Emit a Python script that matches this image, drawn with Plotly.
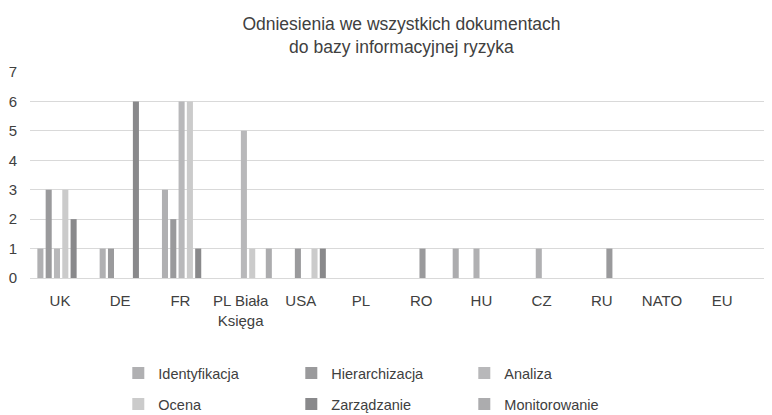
import plotly.graph_objects as go

categories = ["UK", "DE", "FR", "PL Biała<br>Księga", "USA", "PL", "RO", "HU", "CZ", "RU", "NATO", "EU"]
identyfikacja = [1, 1, 3, 0, 0, 0, 0, 1, 1, 0, 0, 0]
hierarchizacja = [3, 1, 2, 0, 1, 0, 1, 0, 0, 1, 0, 0]
analiza = [1, 0, 6, 5, 0, 0, 0, 0, 0, 0, 0, 0]
ocena = [3, 0, 6, 1, 1, 0, 0, 0, 0, 0, 0, 0]
zarzadzanie = [2, 6, 1, 0, 1, 0, 0, 0, 0, 0, 0, 0]
monitorowanie = [0, 0, 0, 1, 0, 0, 1, 0, 0, 0, 0, 0]
y_ticks = [0, 1, 2, 3, 4, 5, 6, 7]

series = [
    ("Identyfikacja", identyfikacja, "#b0b0b2", "legend"),
    ("Hierarchizacja", hierarchizacja, "#9a9a9c", "legend"),
    ("Analiza", analiza, "#b8b8ba", "legend"),
    ("Ocena", ocena, "#cbcbcb", "legend2"),
    ("Zarządzanie", zarzadzanie, "#89898b", "legend2"),
    ("Monitorowanie", monitorowanie, "#acacae", "legend2"),
]

idx = list(range(len(categories)))
fig = go.Figure()
for name, vals, color, leg in series:
    fig.add_trace(go.Bar(x=idx, y=vals, name=name, marker=dict(color=color, line=dict(width=0)),
                         legend=leg))

# invisible trace to carry the category label axis
fig.add_trace(go.Scatter(x=idx, y=[0] * len(idx), xaxis="x2", mode="markers",
                         marker=dict(opacity=0), showlegend=False, hoverinfo="skip"))

font = "Liberation Sans, Arial, sans-serif"
txt = "#404040"
fig.update_layout(
    width=764, height=407,
    margin=dict(l=22, r=0, t=64, b=137, autoexpand=False),
    paper_bgcolor="white", plot_bgcolor="white",
    font=dict(family=font, color=txt, size=15),
    barmode="group", bargap=0.2, bargroupgap=0.27,
    title=dict(text="Odniesienia we wszystkich dokumentach<br>do bazy informacyjnej ryzyka",
               x=0.515, xref="container", xanchor="center", y=0.946, yref="container", yanchor="middle",
               font=dict(size=17.5, color=txt, family=font)),
    xaxis=dict(range=[-0.5, 11.41], showticklabels=False, showgrid=False, zeroline=False,
               showline=False, fixedrange=True),
    xaxis2=dict(overlaying="x", anchor="y", side="bottom", range=[-0.498, 11.827],
                tickmode="array", tickvals=idx, ticktext=categories,
                showgrid=False, zeroline=False, showline=False, ticks="",
                ticklabelstandoff=12, tickfont=dict(size=15, color=txt)),
    yaxis=dict(range=[0, 7], tickmode="array", tickvals=y_ticks, showgrid=True,
               gridcolor="#d9d9d9", gridwidth=1, zeroline=True, zerolinecolor="#d9d9d9",
               zerolinewidth=1, showline=False, ticks="", ticklabelstandoff=12,
               tickfont=dict(size=15, color=txt)),
    legend=dict(orientation="h", x=0.119, xanchor="left", y=-0.461, yanchor="middle",
                entrywidth=128, entrywidthmode="pixels", font=dict(size=14.5, color=txt),
                itemclick=False, itemdoubleclick=False),
    legend2=dict(orientation="h", x=0.119, xanchor="left", y=-0.612, yanchor="middle",
                 entrywidth=128, entrywidthmode="pixels", font=dict(size=14.5, color=txt),
                 itemclick=False, itemdoubleclick=False),
)

fig.write_html("out.html")
